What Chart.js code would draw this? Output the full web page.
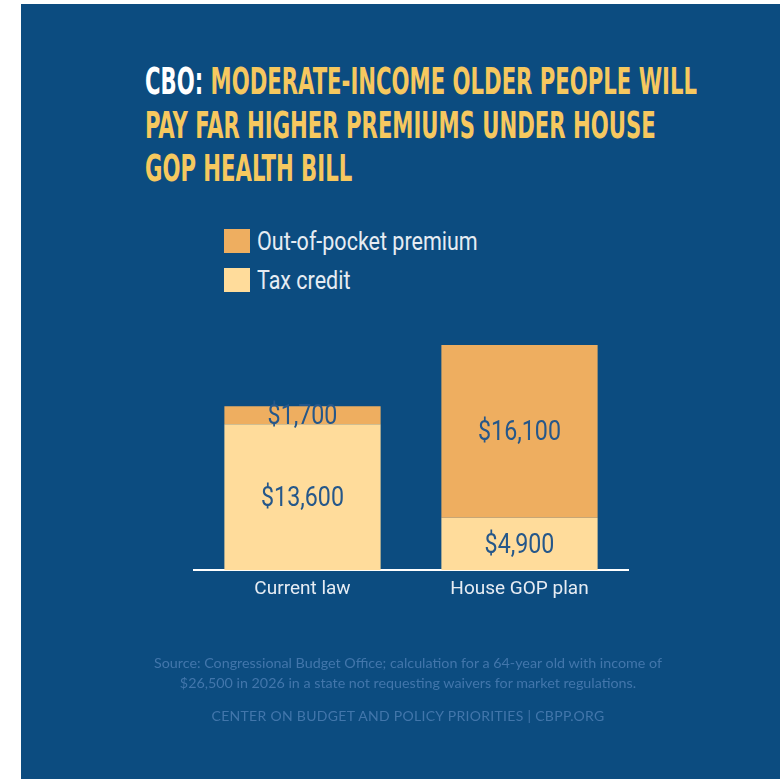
<!DOCTYPE html>
<html>
<head>
<meta charset="utf-8">
<script src="https://cdn.jsdelivr.net/npm/chart.js@4.4.1/dist/chart.umd.min.js"></script>
<style>
  body { margin: 0; background: #ffffff; width: 780px; height: 779px; overflow: hidden; position: relative; }
  #panel { position: absolute; left: 21px; top: 4px; width: 759px; height: 775px; background: #0c4c80; }
  #titolo { position: absolute; left: 145px; top: 60px; font-family: "Liberation Sans Narrow", "DejaVu Sans Condensed", sans-serif; font-weight: bold; font-size: 37px; line-height: 43.5px; color: #f6c85f; }
  #titolo span.riga { display: inline-block; white-space: nowrap; transform-origin: left top; }
  #titolo .cbo { color: #ffffff; }
  #legenda { position: absolute; left: 224px; top: 229px; font-family: Roboto, sans-serif; font-size: 25px; color: #e6ecf3; }
  #legenda .voce { display: flex; align-items: center; height: 24px; margin-bottom: 15px; }
  #legenda .box { width: 26px; height: 24px; margin-right: 7px; flex: none; }
  #legenda .testo { display: inline-block; white-space: nowrap; transform-origin: left center; transform: scaleX(0.86); }
  .nota { position: absolute; left: 0; width: 816px; text-align: center; font-family: Lato, "Open Sans", sans-serif; color: #4276ab; white-space: nowrap; }
  #grafico { position: absolute; left: 0; top: 0; }
</style>
</head>
<body>
<div id="panel"></div>
<div id="titolo">
  <span class="riga"><span class="cbo">CBO:</span> MODERATE-INCOME OLDER PEOPLE WILL</span><br>
  <span class="riga">PAY FAR HIGHER PREMIUMS UNDER HOUSE</span><br>
  <span class="riga">GOP HEALTH BILL</span>
</div>
<div id="legenda"></div>
<canvas id="grafico" width="780" height="779"></canvas>
<div class="nota" style="top:653px; font-size:14.3px; line-height:20px;">Source: Congressional Budget Office; calculation for a 64-year old with income of<br>$26,500 in 2026 in a state not requesting waivers for market regulations.</div>
<div class="nota" style="top:707px; font-size:14px; letter-spacing:0.3px;">CENTER ON BUDGET AND POLICY PRIORITIES | CBPP.ORG</div>

<script>
// Dati
const categorie = ["Current law", "House GOP plan"];
const creditoFiscale = [13600, 4900];
const premioOutOfPocket = [1700, 16100];
const etichetteCredito = ["$13,600", "$4,900"];
const etichettePremio = ["$1,700", "$16,100"];

const coloreCredito = '#ffdc9b';
const colorePremio = '#eeae60';

// Titolo: comprimo in larghezza come il font condensato originale
const righe = document.querySelectorAll('#titolo .riga');
const scala = 552 / righe[0].getBoundingClientRect().width;
righe.forEach(r => r.style.transform = `scaleX(${scala})`);

// Legenda (prima il premio, poi il credito)
const vociLegenda = [
    { testo: 'Out-of-pocket premium', colore: colorePremio },
    { testo: 'Tax credit', colore: coloreCredito }
];
document.getElementById('legenda').innerHTML = vociLegenda.map(v => `
    <div class="voce"><div class="box" style="background:${v.colore}"></div><span class="testo">${v.testo}</span></div>
`).join('');

// Etichette dentro le barre (testo un po' stretto)
const etichetteBarre = {
    id: 'etichetteBarre',
    afterDatasetsDraw(chart) {
        const ctx = chart.ctx;
        const sx = 0.86;
        chart.data.datasets.forEach((ds, i) => {
            chart.getDatasetMeta(i).data.forEach((bar, j) => {
                const p = bar.getProps(['x', 'y', 'base'], true);
                ctx.save();
                ctx.font = "27px Roboto, sans-serif";
                ctx.fillStyle = '#25578a';
                ctx.textAlign = 'center';
                ctx.textBaseline = 'middle';
                ctx.translate(p.x, (p.y + p.base) / 2 + 2);
                ctx.scale(sx, 1);
                ctx.fillText(ds.etichette[j], 0, 0);
                ctx.restore();
            });
        });
    }
};

const ctx = document.getElementById('grafico').getContext('2d');
new Chart(ctx, {
    type: 'bar',
    data: {
        labels: categorie,
        datasets: [
            { label: 'Tax credit', data: creditoFiscale, etichette: etichetteCredito, backgroundColor: coloreCredito, borderWidth: 0 },
            { label: 'Out-of-pocket premium', data: premioOutOfPocket, etichette: etichettePremio, backgroundColor: colorePremio, borderWidth: 0 }
        ]
    },
    options: {
        responsive: false,
        animation: false,
        barPercentage: 0.72,
        categoryPercentage: 1,
        layout: { padding: { left: 194, right: 152, top: 345, bottom: 170 } },
        plugins: {
            legend: { display: false },
            tooltip: { enabled: false }
        },
        scales: {
            x: {
                stacked: true,
                grid: { display: false, drawTicks: false },
                border: { display: true, color: '#ffffff', width: 2 },
                ticks: {
                    color: '#e6ecf3',
                    padding: 8,
                    font: { family: "Roboto, sans-serif", size: 19 }
                }
            },
            y: {
                stacked: true,
                display: false,
                min: 0,
                max: 21000
            }
        }
    },
    plugins: [etichetteBarre]
});
</script>
</body>
</html>
